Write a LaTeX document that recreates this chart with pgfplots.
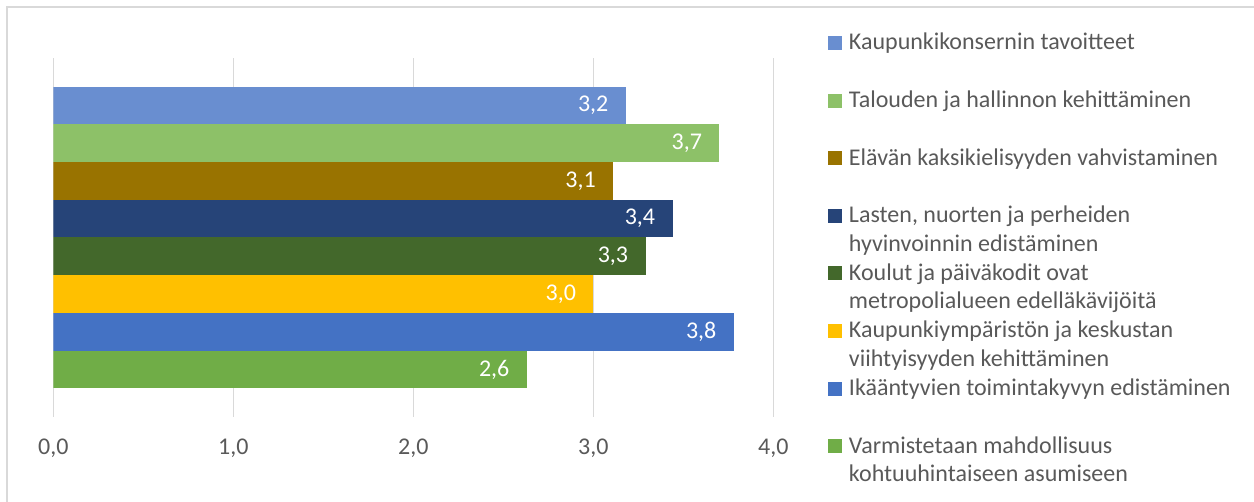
\documentclass[border=0pt]{standalone}
\usepackage{fontspec}
\setmainfont{Carlito}
\usepackage{pgfplots}
\pgfplotsset{compat=1.18}
\definecolor{txt}{HTML}{595959}
\definecolor{gridc}{HTML}{D9D9D9}
\definecolor{cA}{HTML}{698ED0}
\definecolor{cB}{HTML}{8DC168}
\definecolor{cC}{HTML}{997300}
\definecolor{cD}{HTML}{264478}
\definecolor{cE}{HTML}{43682B}
\definecolor{cF}{HTML}{FFC000}
\definecolor{cG}{HTML}{4472C4}
\definecolor{cH}{HTML}{70AD47}
\newcommand{\LE}[1]{\parbox[t]{230pt}{\raggedright\baselineskip=14.2pt\relax #1}}
\begin{document}
\begin{tikzpicture}
\useasboundingbox (0,0) rectangle (627pt,-251pt);
\draw[gridc, line width=0.75pt] (3.4pt,-300pt) -- (3.4pt,-3.6pt) -- (700pt,-3.6pt);
\begin{axis}[
  at={(26.67pt,-208.33pt)}, anchor=south west,
  scale only axis, width=360pt, height=179.2pt,
  xmin=0, xmax=4, ymin=-0.25, ymax=9.25, y dir=reverse,
  xtick={0,1,2,3,4}, ytick=\empty,
  xmajorgrids, grid style={line width=0.8pt, color=gridc},
  axis line style={draw=none}, major tick length=0pt,
  /pgf/number format/assume math mode=true,
  xticklabel style={anchor=base, yshift=-19pt, text=txt, font=\fontsize{12}{14}\selectfont},
  xticklabel={\pgfmathprintnumber[fixed,fixed zerofill,precision=1,use comma]{\tick}},
  xbar, bar width=1, bar shift=0pt,
  point meta=x,
  nodes near coords={\pgfmathprintnumber[fixed,fixed zerofill,precision=1,use comma]{\pgfplotspointmeta}},
  every node near coord/.append style={anchor=east, inner sep=0pt, xshift=-8.5pt, text=white, font=\fontsize{12}{14}\selectfont},
  legend style={at={(1.0759,1.0789)}, anchor=north west, draw=none, fill=none, inner sep=0pt, outer sep=0pt, row sep=0pt, column sep=3.5pt,
    nodes={inner sep=0pt, anchor=base west, text=txt, text height=10pt, text depth=18.8pt, font=\fontsize{12}{14}\selectfont}},
  legend image code/.code={\fill[#1] (0pt,0pt) rectangle (7pt,7pt);},
]
\addplot[fill=cA, draw=none] coordinates {(3.18,1)};
\addlegendentry{\LE{Kaupunkikonsernin tavoitteet}}
\addplot[fill=cB, draw=none] coordinates {(3.70,2)};
\addlegendentry{\LE{Talouden ja hallinnon kehittäminen}}
\addplot[fill=cC, draw=none] coordinates {(3.11,3)};
\addlegendentry{\LE{Elävän kaksikielisyyden vahvistaminen}}
\addplot[fill=cD, draw=none] coordinates {(3.44,4)};
\addlegendentry{\LE{Lasten, nuorten ja perheiden\\hyvinvoinnin edistäminen}}
\addplot[fill=cE, draw=none] coordinates {(3.29,5)};
\addlegendentry{\LE{Koulut ja päiväkodit ovat\\metropolialueen edelläkävijöitä}}
\addplot[fill=cF, draw=none] coordinates {(3.00,6)};
\addlegendentry{\LE{Kaupunkiympäristön ja keskustan\\viihtyisyyden kehittäminen}}
\addplot[fill=cG, draw=none] coordinates {(3.78,7)};
\addlegendentry{\LE{Ikääntyvien toimintakyvyn edistäminen}}
\addplot[fill=cH, draw=none] coordinates {(2.63,8)};
\addlegendentry{\LE{Varmistetaan mahdollisuus\\kohtuuhintaiseen asumiseen}}
\end{axis}
\end{tikzpicture}
\end{document}
